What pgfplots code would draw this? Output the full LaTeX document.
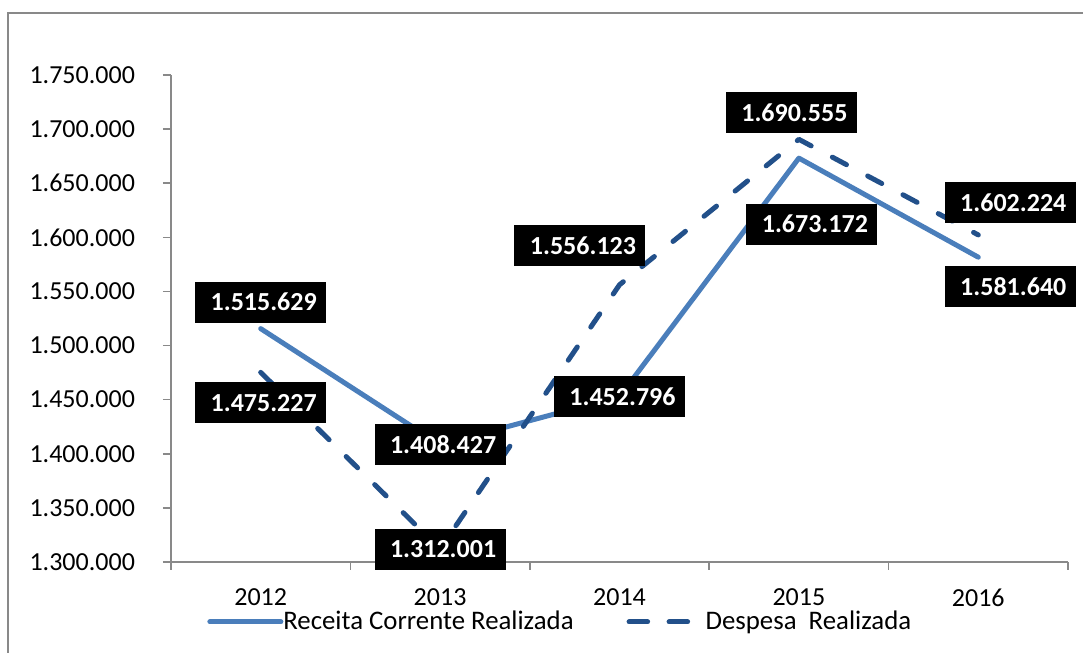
\documentclass[border=0pt]{standalone}
\usepackage{fontspec}
\setmainfont{Carlito}
\usepackage{pgfplots}
\pgfplotsset{compat=1.18}
\usepackage{pgfplotstable}
\definecolor{receita}{HTML}{4A7EBB}
\definecolor{despesa}{HTML}{22508A}
\definecolor{eixo}{HTML}{898989}

% x = posição da categoria, dx/dy = deslocamento do rótulo (pt)
\pgfplotstableread{
x y dx dy label
0 1515629 0 13.25 1.515.629
1 1408427 0 0 1.408.427
2 1452796 0 0 1.452.796
3 1673172 6.5 -33 1.673.172
4 1581640 16 -14.75 1.581.640
}\receita
\pgfplotstableread{
x y dx dy label
0 1475227 0 -15.25 1.475.227
1 1312001 0 0 1.312.001
2 1556123 -19.75 19.75 1.556.123
3 1690555 -3.75 13.5 1.690.555
4 1602224 16 16 1.602.224
}\despesa

\pgfplotsset{
  rotulo/.style={draw=none, mark=none, forget plot,
    nodes near coords={\hspace*{3pt}\pgfplotspointmeta}, point meta=explicit symbolic,
    visualization depends on={\thisrow{dx} \as \dx},
    visualization depends on={\thisrow{dy} \as \dy},
    every node near coord/.append style={anchor=center, fill=black, text=white,
      font=\fontsize{13}{15}\selectfont\bfseries, inner sep=0pt,
      minimum width=65.5pt, minimum height=20.5pt, xshift=\dx pt, yshift=\dy pt}},
  legR/.style={legend image code/.code={\draw[##1] (1.25pt,0pt) -- (34.25pt,0pt); \path (0pt,0pt) -- (35.5pt,0pt);}},
  legD/.style={legend image code/.code={\draw[##1] (1.25pt,0pt) -- (29.75pt,0pt); \path (0pt,0pt) -- (37pt,0pt);}},
}

\begin{document}
\begin{tikzpicture}
\useasboundingbox (-85.5pt,-45.5pt) rectangle (456pt,281pt);
\draw[eixo, line width=1pt] (-81.5pt,-60pt) -- (-81.5pt,274.5pt) -- (470pt,274.5pt);
\begin{axis}[
  at={(0,0)}, anchor=south west, scale only axis,
  width=448.5pt, height=243.5pt,
  xmin=-0.5, xmax=4.5, ymin=1300000, ymax=1750000,
  axis x line=bottom, axis y line=left,
  axis line style={eixo, line width=0.75pt, -},
  tick align=outside, major tick length=4pt,
  tick style={eixo, line width=0.75pt},
  xtick={-0.5,0.5,1.5,2.5,3.5,4.5}, xticklabels={},
  extra x ticks={0,1,2,3,4},
  extra x tick labels={2012,2013,2014,2015,2016},
  extra x tick style={major tick length=0pt},
  scaled y ticks=false,
  ytick={1300000,1350000,1400000,1450000,1500000,1550000,1600000,1650000,1700000,1750000},
  yticklabels={1.300.000,1.350.000,1.400.000,1.450.000,1.500.000,1.550.000,1.600.000,1.650.000,1.700.000,1.750.000},
  ticklabel style={font=\fontsize{13}{15}\selectfont},
  yticklabel style={xshift=-10.5pt},
  xticklabel style={yshift=-10pt},
  clip=false,
  legend columns=2,
  legend style={draw=none, fill=none, at={(axis description cs:0.0401,-0.1232)}, anchor=west,
    inner sep=0pt, column sep=0pt, font=\fontsize{13.4}{15}\selectfont, nodes={inner sep=0pt},
    /tikz/every even column/.append style={column sep=26.5pt}},
]
\addplot[receita, line width=2.5pt, line join=round, line cap=round, legR]
  table[x=x, y=y] {\receita};
\addlegendentry{Receita Corrente Realizada}
\addplot[despesa, line width=2.5pt, line join=round, line cap=round, dash pattern=on 8pt off 12pt, legD]
  table[x=x, y=y] {\despesa};
\addlegendentry{Despesa\ \ Realizada}

\addplot[rotulo] table[x=x, y=y, meta=label] {\receita};
\addplot[rotulo] table[x=x, y=y, meta=label] {\despesa};
\end{axis}
\end{tikzpicture}
\end{document}
